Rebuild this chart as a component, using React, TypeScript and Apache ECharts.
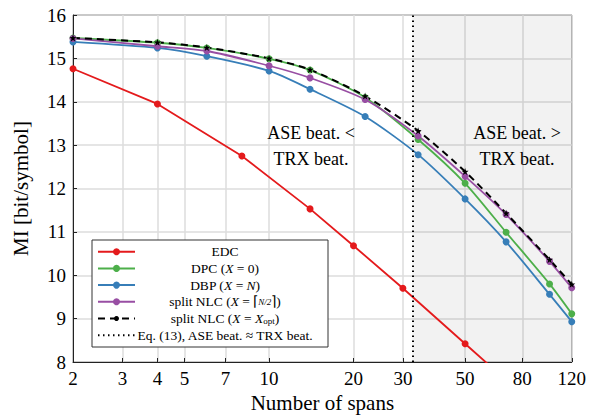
import React, { useEffect, useRef } from 'react';
import * as echarts from 'echarts';

const SPANS = [2, 4, 6, 10, 14, 22, 34, 50, 70, 100, 120];
const EDC_SPANS = [2, 4, 8, 14, 20, 30, 50, 70];
const EDC = [14.76, 13.95, 12.75, 11.53, 10.68, 9.7, 8.42, 7.58];
const DPC = [15.47, 15.36, 15.24, 14.99, 14.73, 14.1, 13.13, 12.12, 10.99, 9.8, 9.11];
const DBP = [15.38, 15.24, 15.05, 14.71, 14.29, 13.66, 12.78, 11.76, 10.77, 9.56, 8.93];
const SPLIT_HALF = [15.46, 15.28, 15.17, 14.83, 14.55, 14.05, 13.21, 12.28, 11.4, 10.32, 9.71];
const SPLIT_OPT = [15.47, 15.37, 15.25, 15.0, 14.74, 14.13, 13.33, 12.39, 11.43, 10.36, 9.79];
const X_TICKS = [2, 3, 4, 5, 7, 10, 20, 30, 50, 80, 120];
const CROSSOVER = 32.4;

const FONT = 'Liberation Serif, serif';
const RED = '#e41a1c';
const GREEN = '#4daf4a';
const BLUE = '#377eb8';
const PURPLE = '#984ea3';
const STAR =
  'path://M0,-10 L2.35,-3.24 9.51,-3.09 3.8,1.24 5.88,8.09 0,4 -5.88,8.09 -3.8,1.24 -9.51,-3.09 -2.35,-3.24Z';

const pairs = (xs: number[], ys: number[]) => xs.map((x, i) => [x, ys[i]]);

function legendGraphics() {
  const x0 = 92, y0 = 240, w = 236, h = 107;
  const rowY = (i: number) => 251.7 + i * 16.7;
  const lx1 = 98, lx2 = 135, mx = 116.5, tx = 225;
  const fs = 13.5;
  const rich = {
    r: { fontFamily: FONT, fontSize: fs, fill: '#000', color: '#000' },
    i: { fontFamily: FONT, fontSize: fs, fontStyle: 'italic', fill: '#000', color: '#000' },
    f: { fontFamily: FONT, fontSize: 9, fontStyle: 'italic', fill: '#000', color: '#000' },
    s: { fontFamily: FONT, fontSize: 9, fill: '#000', color: '#000', verticalAlign: 'bottom' },
  };
  const entries = [
    { color: RED, dash: 'solid', marker: 'circle', text: '{r|EDC}' },
    { color: GREEN, dash: 'solid', marker: 'circle', text: '{r|DPC (}{i|X}{r| = 0)}' },
    { color: BLUE, dash: 'solid', marker: 'circle', text: '{r|DBP (}{i|X}{r| = }{i|N}{r|)}' },
    { color: PURPLE, dash: 'solid', marker: 'circle', text: '{r|split NLC (}{i|X}{r| = ⌈}{f|N/2}{r|⌉)}' },
    { color: '#000', dash: [7, 5], marker: 'star', text: '{r|split NLC (}{i|X}{r| = }{i|X}{s|opt}{r|)}' },
    { color: '#000', dash: [1.5, 3.5], marker: 'none', text: '{r|Eq. (13), ASE beat. ≈ TRX beat.}' },
  ];
  const els: any[] = [
    {
      type: 'rect',
      shape: { x: x0, y: y0, width: w, height: h },
      style: { fill: '#fff', stroke: '#333', lineWidth: 1 },
      z: 100,
    },
  ];
  entries.forEach((e, i) => {
    const y = rowY(i);
    els.push({
      type: 'line',
      shape: { x1: lx1, y1: y, x2: lx2, y2: y },
      style: {
        stroke: e.color,
        lineWidth: 2,
        lineDash: e.dash === 'solid' ? null : e.dash,
      },
      z: 101,
    });
    if (e.marker === 'circle') {
      els.push({ type: 'circle', shape: { cx: mx, cy: y, r: 3.5 }, style: { fill: e.color }, z: 102 });
    } else if (e.marker === 'star') {
      els.push({ type: 'circle', shape: { cx: mx, cy: y, r: 2.5 }, style: { fill: '#000' }, z: 102 });
    }
    els.push({
      type: 'text',
      x: tx,
      y,
      style: {
        text: e.text,
        rich,
        font: `${fs}px ${FONT}`,
        fill: '#000',
        align: 'center',
        verticalAlign: 'middle',
        textAlign: 'center',
        textVerticalAlign: 'middle',
      },
      z: 102,
    });
  });
  return els;
}

function noteText(x: number, y: number, text: string) {
  return {
    type: 'text',
    x,
    y,
    style: {
      text,
      font: `18px ${FONT}`,
      fill: '#000',
      align: 'center',
      verticalAlign: 'middle',
      textAlign: 'center',
      textVerticalAlign: 'middle',
    },
    z: 50,
  };
}

export default function App() {
  const ref = useRef<HTMLDivElement>(null);
  useEffect(() => {
    document.body.style.margin = '0';
    const chart = echarts.init(ref.current!, null, { renderer: 'svg' });
    const lineSeries = (name: string, color: string, data: number[][], extra: any = {}) => ({
      type: 'line',
      name,
      data,
      color,
      symbol: 'circle',
      symbolSize: 7,
      smooth: 0.25,
      clip: true,
      lineStyle: { color, width: 1.8 },
      itemStyle: { color },
      ...extra,
    });
    chart.setOption({
      animation: false,
      backgroundColor: '#fff',
      textStyle: { fontFamily: FONT },
      grid: {
        left: 73,
        right: 16,
        top: 15,
        bottom: 58,
        show: true,
        borderColor: '#222',
        borderWidth: 1,
        backgroundColor: 'transparent',
      },
      xAxis: {
        type: 'log',
        logBase: 10,
        min: 2,
        max: 120,
        name: 'Number of spans',
        nameLocation: 'middle',
        nameGap: 25,
        nameTextStyle: { fontFamily: FONT, fontSize: 21, color: '#000' },
        axisLine: { lineStyle: { color: '#222', width: 1 } },
        axisTick: { show: true, inside: true, length: 4, customValues: X_TICKS, lineStyle: { color: '#222' } },
        axisLabel: {
          customValues: X_TICKS,
          formatter: (v: number) => String(Math.round(v)),
          fontFamily: FONT,
          fontSize: 19,
          color: '#000',
          margin: 7,
        },
        splitLine: { show: true, lineStyle: { color: '#dddddd', width: 1.5 } },
        minorTick: { show: false },
        minorSplitLine: { show: false },
      },
      yAxis: {
        type: 'value',
        min: 8,
        max: 16,
        interval: 1,
        name: 'MI [bit/symbol]',
        nameLocation: 'middle',
        nameGap: 42,
        nameTextStyle: { fontFamily: FONT, fontSize: 21, color: '#000' },
        axisLine: { show: true, lineStyle: { color: '#222', width: 1 } },
        axisTick: { show: true, inside: true, length: 4, lineStyle: { color: '#222' } },
        axisLabel: { fontFamily: FONT, fontSize: 19, color: '#000', margin: 7 },
        splitLine: { show: true, lineStyle: { color: '#dddddd', width: 1.5 } },
      },
      series: [
        lineSeries('EDC', RED, pairs(EDC_SPANS, EDC), {
          smooth: false,
          markArea: {
            silent: true,
            itemStyle: { color: 'rgba(0,0,0,0.05)' },
            data: [[{ xAxis: CROSSOVER }, { xAxis: 120 }]],
          },
          markLine: {
            silent: true,
            symbol: 'none',
            label: { show: false },
            lineStyle: { color: '#000', type: [1.5, 3.5], width: 2 },
            data: [{ xAxis: CROSSOVER }],
          },
        }),
        lineSeries('DPC (X = 0)', GREEN, pairs(SPANS, DPC)),
        lineSeries('DBP (X = N)', BLUE, pairs(SPANS, DBP)),
        lineSeries('split NLC (X = ⌈N/2⌉)', PURPLE, pairs(SPANS, SPLIT_HALF)),
        lineSeries('split NLC (X = X_opt)', '#000', pairs(SPANS, SPLIT_OPT), {
          symbol: STAR,
          symbolSize: 7,
          lineStyle: { color: '#000', width: 2, type: [7, 5] },
        }),
      ],
      graphic: [
        noteText(311, 133, 'ASE beat. <'),
        noteText(311, 159, 'TRX beat.'),
        noteText(517, 133, 'ASE beat. >'),
        noteText(517, 159, 'TRX beat.'),
        ...legendGraphics(),
      ],
    });
    return () => chart.dispose();
  }, []);
  return <div ref={ref} style={{ position: 'absolute', left: 0, top: 0, width: 589, height: 420 }} />;
}
